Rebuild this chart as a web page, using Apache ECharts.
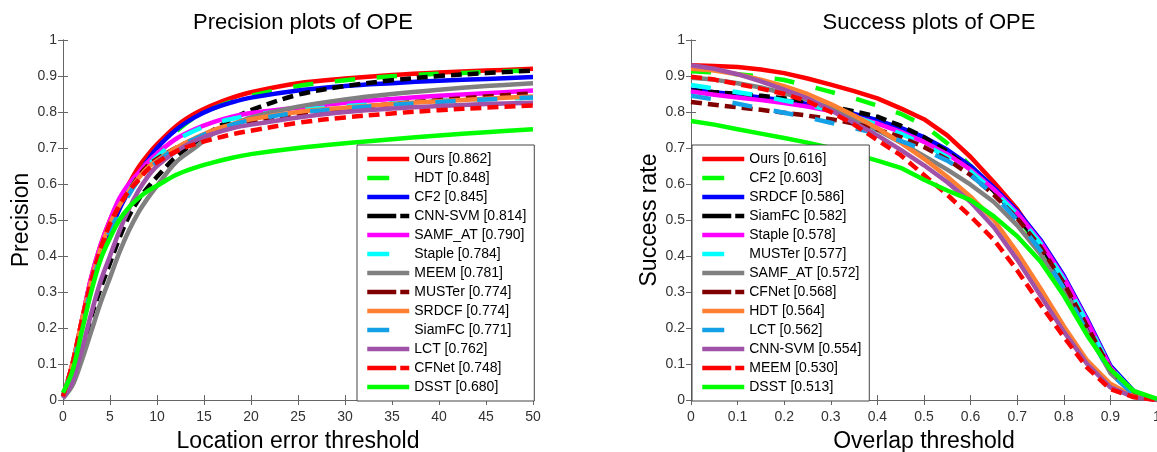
<!DOCTYPE html>
<html>
<head>
<meta charset="utf-8">
<script src="https://cdn.jsdelivr.net/npm/echarts@6/dist/echarts.min.js"></script>
<style>
  html, body { margin: 0; padding: 0; background: #fff; }
  #main { width: 1157px; height: 452px; }
</style>
</head>
<body>
<div id="main"></div>
<script>
// precision plot (location error threshold 0..50)
var precX = [0, 1, 2, 3, 4, 5, 6, 7, 8, 9, 10, 12, 14, 16, 18, 20, 25, 30, 35, 40, 45, 50];
var precNames = ['Ours', 'HDT', 'CF2', 'CNN-SVM', 'SAMF_AT', 'Staple', 'MEEM', 'MUSTer', 'SRDCF', 'SiamFC', 'LCT', 'CFNet', 'DSST'];
var precScores = ['0.862', '0.848', '0.845', '0.814', '0.790', '0.784', '0.781', '0.774', '0.774', '0.771', '0.762', '0.748', '0.680'];
var precOurs   = [0.01, 0.10, 0.22, 0.34, 0.43, 0.50, 0.555, 0.60, 0.645, 0.68, 0.71, 0.76, 0.795, 0.82, 0.84, 0.855, 0.88, 0.893, 0.903, 0.91, 0.915, 0.92];
var precHDT    = [0.01, 0.09, 0.20, 0.31, 0.40, 0.47, 0.53, 0.58, 0.625, 0.66, 0.695, 0.745, 0.785, 0.81, 0.83, 0.845, 0.872, 0.888, 0.899, 0.906, 0.911, 0.916];
var precCF2    = [0.01, 0.09, 0.20, 0.31, 0.40, 0.47, 0.53, 0.58, 0.625, 0.665, 0.70, 0.75, 0.785, 0.81, 0.827, 0.84, 0.86, 0.872, 0.88, 0.887, 0.892, 0.897];
var precCNNSVM = [0.01, 0.05, 0.13, 0.23, 0.31, 0.38, 0.45, 0.51, 0.555, 0.59, 0.62, 0.675, 0.715, 0.75, 0.78, 0.805, 0.848, 0.872, 0.888, 0.90, 0.908, 0.915];
var precSAMFAT = [0.01, 0.10, 0.22, 0.34, 0.43, 0.50, 0.56, 0.60, 0.63, 0.66, 0.685, 0.725, 0.752, 0.772, 0.787, 0.797, 0.812, 0.826, 0.836, 0.845, 0.852, 0.86];
var precStaple = [0.01, 0.09, 0.20, 0.31, 0.40, 0.47, 0.53, 0.58, 0.62, 0.65, 0.675, 0.72, 0.748, 0.768, 0.781, 0.791, 0.806, 0.816, 0.824, 0.831, 0.836, 0.84];
var precMEEM   = [0.005, 0.04, 0.11, 0.19, 0.27, 0.34, 0.41, 0.47, 0.52, 0.56, 0.595, 0.66, 0.70, 0.74, 0.765, 0.785, 0.815, 0.835, 0.85, 0.862, 0.872, 0.88];
var precMUSTer = [0.01, 0.09, 0.21, 0.32, 0.41, 0.48, 0.54, 0.58, 0.62, 0.65, 0.67, 0.70, 0.725, 0.745, 0.76, 0.775, 0.795, 0.81, 0.822, 0.833, 0.843, 0.852];
var precSRDCF  = [0.01, 0.10, 0.22, 0.33, 0.42, 0.49, 0.54, 0.58, 0.615, 0.645, 0.665, 0.70, 0.727, 0.75, 0.766, 0.78, 0.80, 0.812, 0.822, 0.83, 0.837, 0.843];
var precSiamFC = [0.01, 0.09, 0.20, 0.31, 0.40, 0.47, 0.52, 0.57, 0.61, 0.64, 0.66, 0.70, 0.725, 0.748, 0.765, 0.778, 0.798, 0.81, 0.82, 0.828, 0.835, 0.84];
var precLCT    = [0.005, 0.05, 0.14, 0.24, 0.33, 0.40, 0.47, 0.53, 0.58, 0.62, 0.65, 0.69, 0.72, 0.74, 0.755, 0.765, 0.785, 0.80, 0.81, 0.817, 0.822, 0.826];
var precCFNet  = [0.01, 0.10, 0.22, 0.33, 0.42, 0.49, 0.54, 0.58, 0.61, 0.64, 0.66, 0.69, 0.71, 0.725, 0.738, 0.748, 0.77, 0.785, 0.796, 0.805, 0.812, 0.818];
var precDSST   = [0.02, 0.08, 0.19, 0.30, 0.39, 0.45, 0.50, 0.535, 0.56, 0.58, 0.595, 0.625, 0.645, 0.66, 0.673, 0.683, 0.70, 0.713, 0.724, 0.735, 0.744, 0.752];
var precValues = [precOurs, precHDT, precCF2, precCNNSVM, precSAMFAT, precStaple, precMEEM, precMUSTer, precSRDCF, precSiamFC, precLCT, precCFNet, precDSST];

// success plot (overlap threshold 0..1)
var succX = [0, 0.05, 0.1, 0.15, 0.2, 0.25, 0.3, 0.35, 0.4, 0.45, 0.5, 0.55, 0.6, 0.65, 0.7, 0.75, 0.8, 0.85, 0.9, 0.95, 1];
var succNames = ['Ours', 'CF2', 'SRDCF', 'SiamFC', 'Staple', 'MUSTer', 'SAMF_AT', 'CFNet', 'HDT', 'LCT', 'CNN-SVM', 'MEEM', 'DSST'];
var succScores = ['0.616', '0.603', '0.586', '0.582', '0.578', '0.577', '0.572', '0.568', '0.564', '0.562', '0.554', '0.530', '0.513'];
var succOurs   = [0.93, 0.928, 0.925, 0.918, 0.908, 0.893, 0.876, 0.858, 0.838, 0.81, 0.78, 0.735, 0.675, 0.605, 0.53, 0.435, 0.325, 0.2, 0.08, 0.015, 0];
var succCF2    = [0.913, 0.91, 0.905, 0.898, 0.889, 0.873, 0.856, 0.838, 0.818, 0.795, 0.763, 0.713, 0.65, 0.585, 0.51, 0.42, 0.315, 0.195, 0.085, 0.02, 0];
var succSRDCF  = [0.862, 0.855, 0.848, 0.84, 0.832, 0.822, 0.81, 0.795, 0.777, 0.756, 0.73, 0.695, 0.65, 0.59, 0.525, 0.445, 0.345, 0.225, 0.095, 0.025, 0];
var succSiamFC = [0.86, 0.855, 0.85, 0.845, 0.838, 0.828, 0.815, 0.802, 0.787, 0.762, 0.73, 0.69, 0.64, 0.58, 0.51, 0.43, 0.33, 0.215, 0.09, 0.02, 0];
var succStaple = [0.857, 0.848, 0.84, 0.833, 0.825, 0.815, 0.803, 0.787, 0.768, 0.745, 0.717, 0.683, 0.64, 0.585, 0.52, 0.44, 0.34, 0.22, 0.09, 0.02, 0];
var succMUSTer = [0.875, 0.865, 0.855, 0.845, 0.832, 0.82, 0.805, 0.787, 0.765, 0.74, 0.71, 0.675, 0.635, 0.58, 0.515, 0.435, 0.335, 0.215, 0.09, 0.02, 0];
var succSAMFAT = [0.895, 0.89, 0.88, 0.868, 0.852, 0.835, 0.81, 0.78, 0.75, 0.715, 0.678, 0.64, 0.598, 0.55, 0.485, 0.405, 0.31, 0.19, 0.075, 0.015, 0];
var succCFNet  = [0.828, 0.82, 0.813, 0.806, 0.798, 0.79, 0.78, 0.768, 0.752, 0.73, 0.703, 0.668, 0.625, 0.57, 0.505, 0.425, 0.325, 0.205, 0.085, 0.02, 0];
var succHDT    = [0.92, 0.915, 0.905, 0.89, 0.872, 0.85, 0.822, 0.79, 0.755, 0.715, 0.67, 0.62, 0.565, 0.5, 0.41, 0.31, 0.205, 0.11, 0.045, 0.01, 0];
var succLCT    = [0.845, 0.835, 0.823, 0.81, 0.798, 0.785, 0.77, 0.755, 0.74, 0.72, 0.695, 0.665, 0.625, 0.57, 0.5, 0.415, 0.31, 0.19, 0.075, 0.015, 0];
var succCNNSVM = [0.93, 0.92, 0.905, 0.885, 0.862, 0.838, 0.805, 0.77, 0.735, 0.695, 0.652, 0.605, 0.55, 0.48, 0.39, 0.29, 0.19, 0.1, 0.035, 0.008, 0];
var succMEEM   = [0.898, 0.89, 0.878, 0.865, 0.85, 0.83, 0.80, 0.765, 0.722, 0.68, 0.625, 0.57, 0.51, 0.445, 0.36, 0.265, 0.175, 0.09, 0.03, 0.008, 0];
var succDSST   = [0.775, 0.765, 0.752, 0.74, 0.728, 0.715, 0.70, 0.683, 0.665, 0.645, 0.612, 0.582, 0.555, 0.51, 0.455, 0.385, 0.29, 0.18, 0.085, 0.025, 0.003];
var succValues = [succOurs, succCF2, succSRDCF, succSiamFC, succStaple, succMUSTer, succSAMFAT, succCFNet, succHDT, succLCT, succCNNSVM, succMEEM, succDSST];

// line style by rank (same order in both plots)
var rankColors = ['#ff0000', '#00ff00', '#0000ff', '#000000', '#ff00ff', '#00ffff', '#808080', '#800000', '#ff8033', '#14a0e6', '#a052a8', '#ff0000', '#00ff00'];
var rankDash = ['solid', 'long', 'solid', 'short', 'solid', 'long', 'solid', 'short', 'solid', 'long', 'solid', 'short', 'solid'];
var plotDash = { solid: 'solid', long: [20, 22], short: [11, 6] };
var legendDash = { solid: 'solid', long: [22, 40], short: [29, 4, 9, 30] };

var font = 'Liberation Sans, Arial, Helvetica, sans-serif';

function buildSeries(names, scores, xs, values, axisIdx) {
    var out = [];
    for (var i = 0; i < names.length; i++) {
        var pts = [];
        for (var j = 0; j < xs.length; j++) pts.push([xs[j], values[i][j]]);
        out.push({
            name: names[i] + ' [' + scores[i] + ']',
            type: 'line',
            xAxisIndex: axisIdx,
            yAxisIndex: axisIdx,
            data: pts,
            symbol: 'none',
            smooth: axisIdx === 0 ? 0.35 : false,
            animation: false,
            lineStyle: { color: rankColors[i], width: 4.5, type: plotDash[rankDash[i]], join: 'round' },
            itemStyle: { color: rankColors[i] },
            z: 2
        });
    }
    return out;
}

function buildLegend(names, scores, left) {
    var data = [];
    for (var i = 0; i < names.length; i++) {
        data.push({
            name: names[i] + ' [' + scores[i] + ']',
            itemStyle: { opacity: 0, color: 'rgba(0,0,0,0)', borderWidth: 0 },
            lineStyle: { type: legendDash[rankDash[i]], width: 4.5, color: rankColors[i] }
        });
    }
    return {
        orient: 'vertical',
        left: left,
        top: 145,
        itemWidth: 42,
        itemHeight: 14,
        itemGap: 5,
        padding: [7, 8, 7, 8],
        backgroundColor: '#fff',
        borderColor: '#444',
        borderWidth: 1,
        borderRadius: 0,
        selectedMode: false,
        textStyle: { fontSize: 14, color: '#000', fontFamily: font },
        data: data
    };
}

function bottomAxis(grid, max, interval, name) {
    return {
        type: 'value', gridIndex: grid, position: 'bottom', min: 0, max: max, interval: interval,
        name: name, nameLocation: 'middle', nameGap: 30,
        nameTextStyle: { fontSize: 23, color: '#000', fontFamily: font },
        axisLine: { lineStyle: { color: '#666', width: 1 } },
        axisTick: { inside: true, length: 5, lineStyle: { color: '#666' } },
        axisLabel: { fontSize: 14, color: '#333', margin: 10, fontFamily: font },
        splitLine: { show: false }
    };
}
function topAxis(grid, max, interval) {
    return {
        type: 'value', gridIndex: grid, position: 'top', min: 0, max: max, interval: interval,
        axisLine: { lineStyle: { color: '#666', width: 1 } },
        axisTick: { inside: true, length: 5, lineStyle: { color: '#666' } },
        axisLabel: { show: false },
        splitLine: { show: false }
    };
}
function leftAxis(grid, name) {
    return {
        type: 'value', gridIndex: grid, position: 'left', min: 0, max: 1, interval: 0.1,
        name: name, nameLocation: 'middle', nameGap: 30,
        nameTextStyle: { fontSize: 23, color: '#000', fontFamily: font },
        axisLine: { show: true, lineStyle: { color: '#666', width: 1 } },
        axisTick: { show: true, inside: true, length: 5, lineStyle: { color: '#666' } },
        axisLabel: { fontSize: 14, color: '#333', margin: 6, fontFamily: font },
        splitLine: { show: false }
    };
}
function rightAxis(grid) {
    return {
        type: 'value', gridIndex: grid, position: 'right', min: 0, max: 1, interval: 0.1,
        axisLine: { show: true, lineStyle: { color: '#666', width: 1 } },
        axisTick: { show: true, inside: true, length: 5, lineStyle: { color: '#666' } },
        axisLabel: { show: false },
        splitLine: { show: false }
    };
}

var myChart = echarts.init(document.getElementById('main'), null, { renderer: 'canvas' });

var option = {
    backgroundColor: '#fff',
    animation: false,
    title: [
        { text: 'Precision plots of OPE', left: 298, top: 7, textAlign: 'center',
          textStyle: { fontSize: 22, fontWeight: 'normal', color: '#000', fontFamily: font } },
        { text: 'Success plots of OPE', left: 924, top: 7, textAlign: 'center',
          textStyle: { fontSize: 22, fontWeight: 'normal', color: '#000', fontFamily: font } }
    ],
    grid: [
        { left: 63, right: 624, top: 40, bottom: 52, containLabel: false, outerBoundsMode: 'none' },
        { left: 691, right: 0, top: 40, bottom: 52, containLabel: false, outerBoundsMode: 'none' }
    ],
    xAxis: [
        bottomAxis(0, 50, 5, 'Location error threshold'),
        bottomAxis(1, 1, 0.1, 'Overlap threshold'),
        topAxis(0, 50, 5),
        topAxis(1, 1, 0.1)
    ],
    yAxis: [
        leftAxis(0, 'Precision'),
        leftAxis(1, 'Success rate'),
        rightAxis(0),
        rightAxis(1)
    ],
    legend: [
        buildLegend(precNames, precScores, 357),
        buildLegend(succNames, succScores, 692)
    ],
    series: buildSeries(precNames, precScores, precX, precValues, 0)
        .concat(buildSeries(succNames, succScores, succX, succValues, 1))
};

myChart.setOption(option);
</script>
</body>
</html>
